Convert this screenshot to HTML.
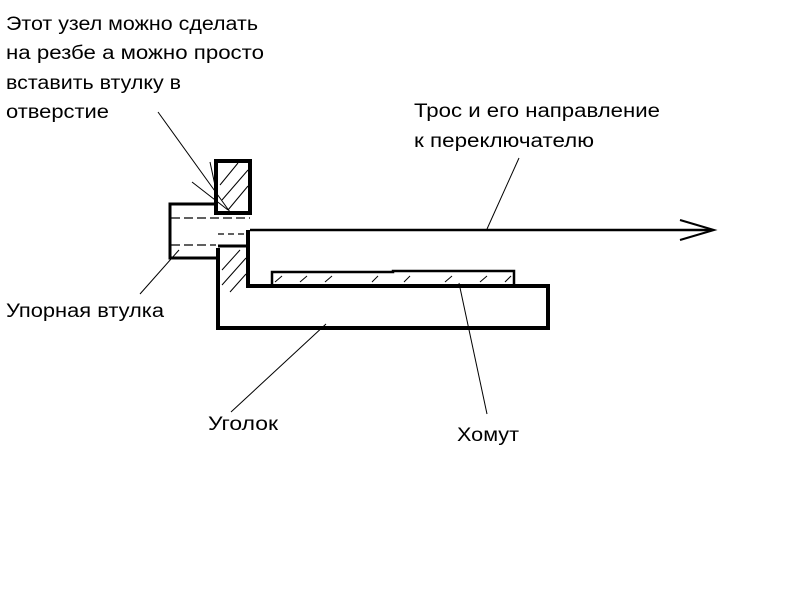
<!DOCTYPE html>
<html><head><meta charset="utf-8"><style>body{margin:0;background:#fff}svg{display:block}text{font-family:"Liberation Sans","Noto Sans CJK SC",sans-serif;font-size:19px;fill:#000}</style></head>
<body><svg width="800" height="600" viewBox="0 0 800 600">
<g>
<text x="6" y="30" textLength="252" lengthAdjust="spacingAndGlyphs">Этот узел можно сделать</text>
<text x="6" y="59" textLength="258" lengthAdjust="spacingAndGlyphs">на резбе а можно просто</text>
<text x="6" y="89" textLength="175" lengthAdjust="spacingAndGlyphs">вставить втулку в</text>
<text x="6" y="118" textLength="103" lengthAdjust="spacingAndGlyphs">отверстие</text>
<text x="414" y="117" textLength="246" lengthAdjust="spacingAndGlyphs">Трос и его направление</text>
<text x="414" y="147" textLength="180" lengthAdjust="spacingAndGlyphs">к переключателю</text>
<text x="6" y="317" textLength="158" lengthAdjust="spacingAndGlyphs">Упорная втулка</text>
<text x="208" y="430" textLength="70" lengthAdjust="spacingAndGlyphs">Уголок</text>
<text x="457" y="441" textLength="62" lengthAdjust="spacingAndGlyphs">Хомут</text>
</g>
<g fill="none" stroke="#000">
<rect x="216" y="161" width="34" height="52" stroke-width="4"/>
<polyline points="216,204 170,204 170,258 216,258" stroke-width="3"/>
<line x1="171" y1="218" x2="250" y2="218" stroke-width="1.2" stroke-dasharray="9,4"/>
<line x1="171" y1="245" x2="216" y2="245" stroke-width="1.2" stroke-dasharray="9,4"/>
<line x1="218" y1="234" x2="250" y2="234" stroke-width="1.2" stroke-dasharray="6,4"/>
<polyline points="218,248 218,328 548,328 548,286 248,286 248,230" stroke-width="4"/>
<line x1="218" y1="246" x2="250" y2="246" stroke-width="3"/>
<polyline points="272,284 272,272 393,272 393,271 514,271 514,284" stroke-width="2.5"/>
<line x1="250" y1="230" x2="712" y2="230" stroke-width="2.5"/>
<polyline points="680,220 714,230 680,240" stroke-width="2"/>
<g stroke-width="1">
<line x1="220" y1="185" x2="238" y2="163"/><line x1="222" y1="200" x2="248" y2="170"/><line x1="228" y1="210" x2="248" y2="186"/>
<line x1="222" y1="270" x2="240" y2="250"/><line x1="222" y1="285" x2="246" y2="258"/><line x1="230" y1="292" x2="246" y2="274"/>
<line x1="275" y1="282" x2="282" y2="276"/><line x1="300" y1="282" x2="307" y2="276"/><line x1="325" y1="282" x2="332" y2="276"/><line x1="372" y1="282" x2="378" y2="276"/><line x1="404" y1="282" x2="410" y2="276"/><line x1="445" y1="282" x2="452" y2="276"/><line x1="480" y1="282" x2="487" y2="276"/><line x1="505" y1="282" x2="511" y2="276"/>
<line x1="158" y1="112" x2="230" y2="212"/>
<line x1="192" y1="182" x2="228" y2="210"/>
<line x1="210" y1="162" x2="216" y2="190"/>
<line x1="519" y1="158" x2="487" y2="229"/>
<line x1="140" y1="294" x2="179" y2="250"/>
<line x1="231" y1="412" x2="326" y2="324"/>
<line x1="487" y1="414" x2="459" y2="283"/>
</g>
</g>
</svg></body></html>
